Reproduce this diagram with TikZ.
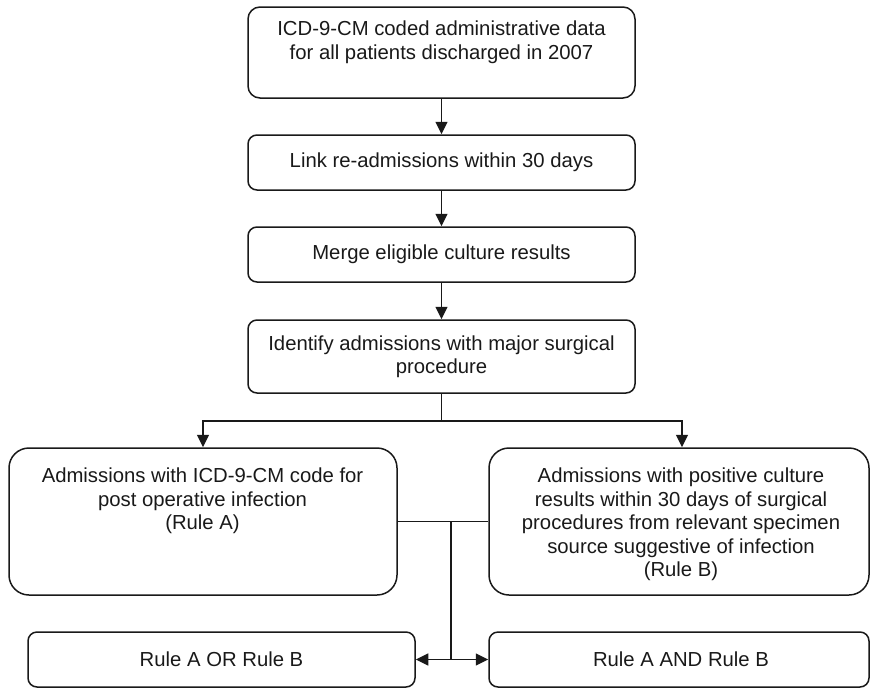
\documentclass[tikz,border=0pt]{standalone}
\usepackage{fontspec}
\setmainfont{Liberation Sans}
\usetikzlibrary{arrows.meta}
\begin{document}
\begin{tikzpicture}[x=1pt,y=-1pt,
  box/.style={draw=black!90, line width=1.5pt, rounded corners=9pt, inner sep=0pt,
    font=\fontsize{20.3}{23.5}\selectfont, align=center, text=black!90},
  bigbox/.style={box, rounded corners=20pt},
  txt/.style={font=\fontsize{20.3}{23.5}\selectfont, align=center, inner sep=0pt, text=black!90},
  conn/.style={line width=1.5pt, draw=black!90},
  arr/.style={conn, -{Triangle[length=12.5pt,width=12pt]}}]
\useasboundingbox (0,0) rectangle (870,689);

% main column
\node[box, rounded corners=12pt, minimum width=387pt, minimum height=91pt] (b1) at (441.5,52.5) {};
\node[txt, anchor=north] (t1) at (441.5,21) {ICD-9-CM coded administrative data\\for all patients discharged in 2007};
\node[box, minimum width=387pt, minimum height=55pt] (b2) at (441.5,162.5) {Link re-admissions within 30 days};
\node[box, minimum width=387pt, minimum height=55pt] (b3) at (441.5,254.5) {Merge eligible culture results};
\node[box, minimum width=387pt, minimum height=73pt] (b4) at (441.5,356.5) {Identify admissions with major surgical\\procedure};

% rule boxes
\node[bigbox, minimum width=388pt, minimum height=147pt] (bA) at (203,521.5) {};
\node[txt, anchor=north] (tA) at (202.5,468) {Admissions with ICD-9-CM code for\\post operative infection\\(Rule A)};
\node[bigbox, minimum width=380pt, minimum height=147pt] (bB) at (679,521.5) {};
\node[txt, anchor=north] (tB) at (681,468) {Admissions with positive culture\\results within 30 days of surgical\\procedures from relevant specimen\\source suggestive of infection\\(Rule B)};

% result boxes
\node[box, minimum width=387pt, minimum height=55pt] (bOr) at (221.5,659.5) {Rule A OR Rule B};
\node[box, minimum width=380pt, minimum height=55pt] (bAnd) at (679,659.5) {\hspace*{4pt}Rule A AND Rule B};

% connectors
\draw[arr] (b1) -- (b2);
\draw[arr] (b2) -- (b3);
\draw[arr] (b3) -- (b4);
\coordinate (split) at (441.5,421);
\draw[conn] (b4.south) -- (split);
\draw[arr] (split) -| (bA.north);
\draw[arr] (split) -| ([xshift=3pt]bB.north);
\draw[conn] (bA.east) -- (bB.west);
\coordinate (m) at (451,521.5);
\draw[arr] (m) |- (bOr.east);
\draw[arr] (m) |- (bAnd.west);
\end{tikzpicture}
\end{document}
